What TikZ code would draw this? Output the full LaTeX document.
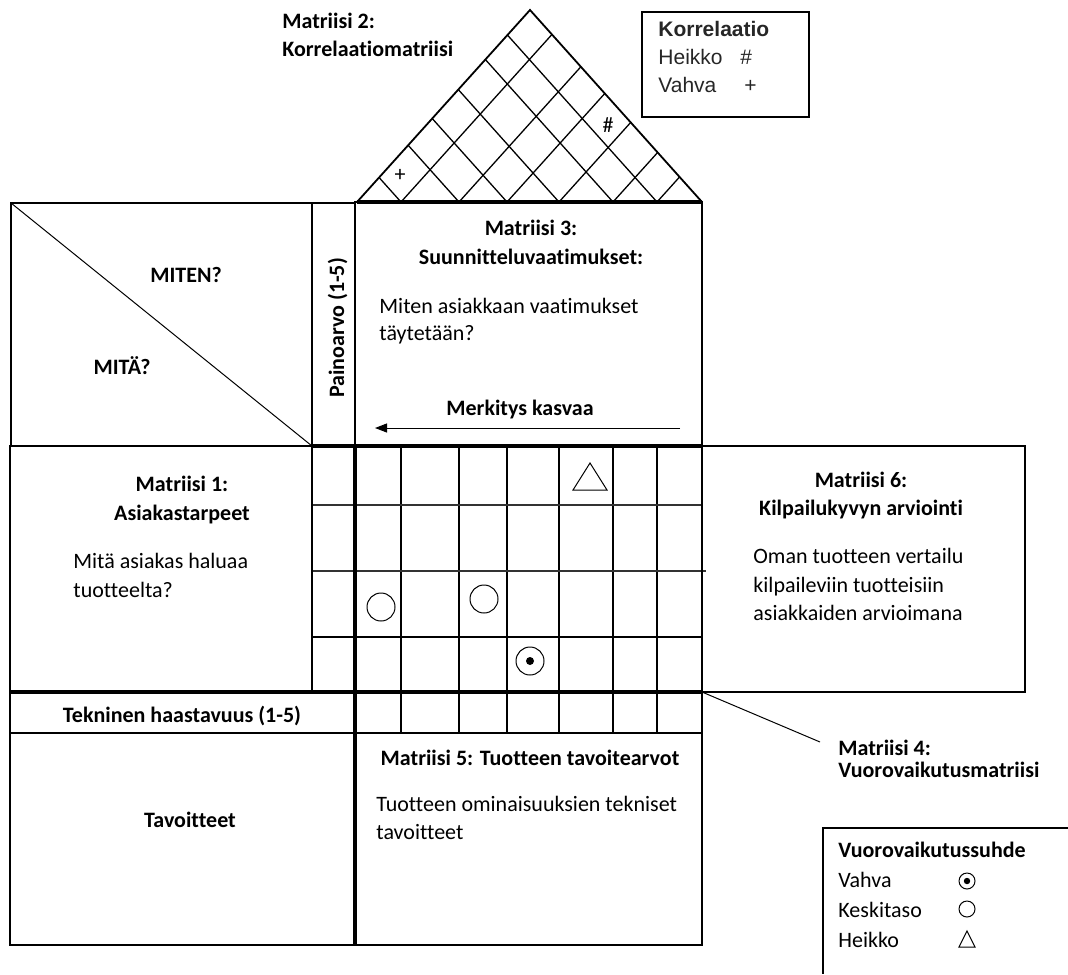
\documentclass[tikz,border=0pt]{standalone}
\usepackage{fontspec}
\setmainfont{Carlito}[Ligatures=NoCommon]
\newfontfamily\arialfont{Liberation Sans}
\usetikzlibrary{arrows.meta}
\begin{document}
\begin{tikzpicture}[x=0.5pt,y=-0.5pt,
  every node/.style={inner sep=0pt, font=\fontsize{11}{13.5}\selectfont},
  lt/.style={anchor=base west},
  ct/.style={anchor=base},
  bt/.style={font=\fontsize{11}{13.5}\selectfont\bfseries},
  arialtxt/.style={font=\arialfont\fontsize{10.5}{12.5}\selectfont, text=black!85},
  arialbold/.style={font=\arialfont\bfseries\fontsize{10.5}{12.5}\selectfont, text=black!85},
  thinln/.style={line width=0.5pt},
  gridln/.style={line width=0.65pt},
  normln/.style={line width=0.9pt},
  thickln/.style={line width=1.3pt},
  heavyln/.style={line width=1.8pt},
]
\useasboundingbox (0,0) rectangle (1068,974);

% ---------- roof: correlation matrix ----------
\coordinate (apex) at (530,10);
\coordinate (roofL) at (357,202);
\coordinate (roofR) at (702,202);
\foreach \p in {401,459,507,559,613,657} {
  \pgfmathsetmacro{\tr}{(702-\p)/345}
  \pgfmathsetmacro{\tl}{(\p-357)/345}
  \draw[gridln] (\p-172*\tl, 202-192*\tl) -- (\p,202) -- (\p+173*\tr, 202-192*\tr);
}
\draw[normln, line join=miter] (roofL) -- (apex) -- (roofR);
\node (plus) at (400,175) {+};
\node (hash) at (608,125) {\#};

\node[lt, bt] (m2a) at (282,29) {Matriisi 2:};
\node[lt, bt] (m2b) at (282,57) {Korrelaatiomatriisi};

% correlation legend
\draw[normln] (642,12) rectangle (809,117);
\node[lt, arialbold] (kor) at (658,37) {Korrelaatio};
\node[lt, arialtxt] (korh) at (658,65) {Heikko};
\node[lt, arialtxt] (korhs) at (740,65) {\#};
\node[lt, arialtxt] (korv) at (658,92) {Vahva};
\node[lt, arialtxt] (korvs) at (744,92) {+};

% ---------- top-left corner ----------
\draw[normln] (11,203) rectangle (312,446);
\draw[thinln] (11,203) -- (312,446);
\node[ct, bt] (miten) at (186,282) {MITEN?};
\node[ct, bt] (mita) at (122,374) {MITÄ?};

% weight column
\draw[thickln] (312,203) rectangle (355,446);
\node[rotate=90, anchor=base, bt] (paino) at (344,328) {Painoarvo (1-5)};

% ---------- design requirements ----------
\draw[thickln] (355,202) rectangle (702,446);
\draw[heavyln] (357,202) -- (702,202);
\node[ct, bt] (m3a) at (531,235) {Matriisi 3:};
\node[ct, bt] (m3b) at (531,264) {Suunnitteluvaatimukset:};
\node[lt] (m3c) at (379,313) {Miten asiakkaan vaatimukset};
\node[lt] (m3d) at (379,340) {täytetään?};
\node[ct, bt] (merk) at (520,415) {Merkitys kasvaa};
\coordinate (arrS) at (680,428);
\coordinate (arrE) at (375,428);
\draw[thinln, -{Triangle[length=6pt, width=4.5pt]}] (arrS) -- (arrE);

% ---------- customer needs ----------
\draw[normln] (10,446) rectangle (312,692);
\node[ct, bt] (m1a) at (182,491) {Matriisi 1:};
\node[ct, bt] (m1b) at (182,520) {Asiakastarpeet};
\node[lt] (m1c) at (73,568) {Mitä asiakas haluaa};
\node[lt] (m1d) at (73,597) {tuotteelta?};

% ---------- relationship matrix ----------
\foreach \x in {401,459,507,559,613,657} {
  \draw[gridln] (\x,446) -- (\x,733);
}
\draw[gridln, black!80] (312,505) -- (702,505);
\draw[gridln, black!80] (312,571) -- (706,571);
\draw[gridln] (312,637) -- (702,637);
\draw[normln] (312,446) -- (312,692);
\draw[heavyln] (312,446) -- (702,446);
\draw[heavyln] (10,692) -- (702,692);
\draw[heavyln] (355,446) -- (355,945);
\draw[thickln] (702,446) -- (702,945);

% relationship symbols
\draw[thinln, line join=miter] (590,463) -- (607,490) -- (573,490) -- cycle;
\draw[thinln] (381,607) circle[radius=7pt];
\draw[thinln] (484,599) circle[radius=7pt];
\draw[thinln] (530,661) circle[radius=7pt];
\fill (530,661) circle[radius=2pt];

% ---------- competitive assessment ----------
\draw[thickln] (702,446) rectangle (1025,692);
\node[ct, bt] (m6a) at (861,487) {Matriisi 6:};
\node[ct, bt] (m6b) at (861,515) {Kilpailukyvyn arviointi};
\node[lt] (m6c) at (753,563) {Oman tuotteen vertailu};
\node[lt] (m6d) at (753,592) {kilpaileviin tuotteisiin};
\node[lt] (m6e) at (753,620) {asiakkaiden arvioimana};

% ---------- technical difficulty row ----------
\draw[normln] (10,692) rectangle (355,733);
\node[ct, bt] (tek) at (182,722) {Tekninen haastavuus (1-5)};
\draw[thickln] (355,733) -- (702,733);

% ---------- targets ----------
\draw[thickln] (10,733) rectangle (355,945);
\node[ct, bt] (tav) at (190,827) {Tavoitteet};
\draw[thickln] (355,733) rectangle (702,945);
\node[ct, bt] (m5a) at (530,765) {Matriisi 5: Tuotteen tavoitearvot};
\node[lt] (m5b) at (376,811) {Tuotteen ominaisuuksien tekniset};
\node[lt] (m5c) at (376,839) {tavoitteet};

% ---------- interaction matrix callout ----------
\coordinate (m4corner) at (702,692);
\coordinate (m4end) at (820,742);
\draw[thinln] (m4corner) -- (m4end);
\node[lt, bt] (m4a) at (838,755) {Matriisi 4:};
\node[lt, bt] (m4b) at (838,777) {Vuorovaikutusmatriisi};

% ---------- relationship legend ----------
\draw[normln] (1068,828) -- (823,828) -- (823,974);
\node[lt, bt] (leg) at (838,857) {Vuorovaikutussuhde};
\node[lt] (legv) at (838,887) {Vahva};
\node[lt] (legk) at (838,917) {Keskitaso};
\node[lt] (legh) at (838,947) {Heikko};
\draw[thinln] (967,881) circle[radius=4pt];
\fill (967,881) circle[radius=1.6pt];
\draw[thinln] (967,909) circle[radius=4pt];
\draw[thinln, line join=miter] (967,931) -- (975,947) -- (959,947) -- cycle;
\end{tikzpicture}
\end{document}
